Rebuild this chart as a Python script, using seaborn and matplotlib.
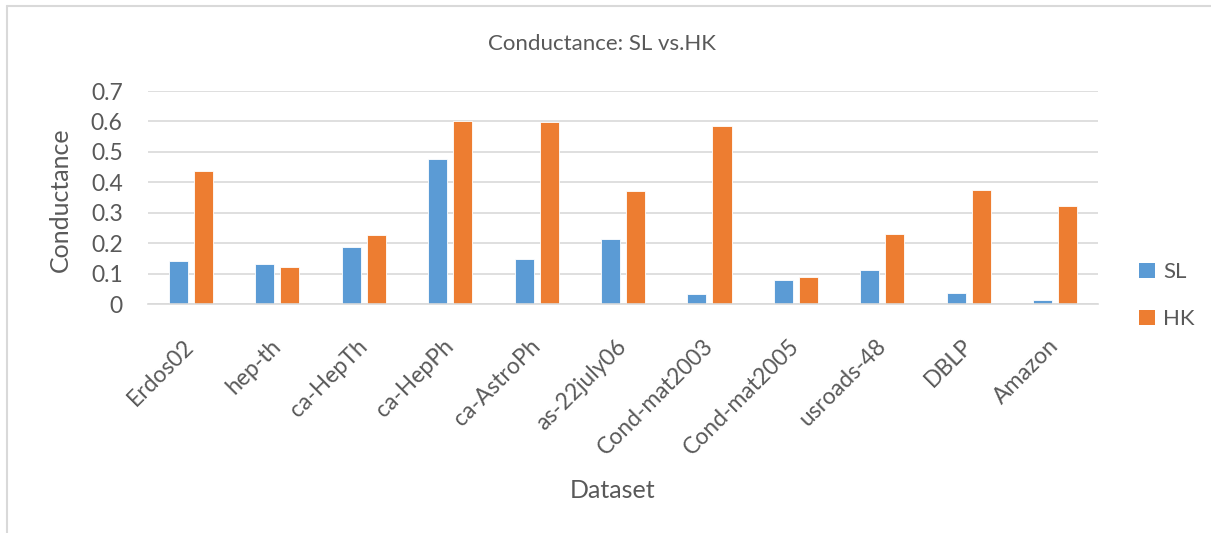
import pandas as pd
import seaborn as sns
import matplotlib.pyplot as plt
from matplotlib.lines import Line2D
from matplotlib.patches import Patch

datasets = ["Erdos02", "hep-th", "ca-HepTh", "ca-HepPh", "ca-AstroPh", "as-22july06",
            "Cond-mat2003", "Cond-mat2005", "usroads-48", "DBLP", "Amazon"]
sl = [0.143, 0.132, 0.187, 0.477, 0.147, 0.214, 0.033, 0.079, 0.111, 0.037, 0.013]
hk = [0.437, 0.121, 0.227, 0.601, 0.599, 0.372, 0.586, 0.089, 0.229, 0.376, 0.321]
series = ["SL", "HK"]
colors = ["#5B9BD5", "#ED7D31"]

df = pd.DataFrame({
    "Dataset": datasets * 2,
    "Conductance": sl + hk,
    "Method": ["SL"] * len(datasets) + ["HK"] * len(datasets),
})

sns.set_style("white")
plt.rcParams["font.family"] = ["Lato", "DejaVu Sans"]
text_col = "#595959"

fig = plt.figure(figsize=(12.11, 5.33), dpi=100)
ax = fig.add_axes([0.122, 0.4296, 0.785, 0.3996])

sns.barplot(data=df, x="Dataset", y="Conductance", hue="Method", hue_order=series,
            palette=colors, width=0.58, gap=0.24, ax=ax, legend=False,
            edgecolor="white", linewidth=0.6, saturation=1)

ax.set_ylim(0, 0.7)
ax.set_xlim(-0.5, len(datasets) - 0.5)
ax.set_yticks([0, 0.1, 0.2, 0.3, 0.4, 0.5, 0.6, 0.7])
ax.set_yticklabels(["0", "0.1", "0.2", "0.3", "0.4", "0.5", "0.6", "0.7"])
ax.yaxis.grid(True, color="#D9D9D9", linewidth=1.2)
ax.set_axisbelow(True)
for s in ["top", "right", "left"]:
    ax.spines[s].set_visible(False)
ax.spines["bottom"].set_color("#D9D9D9")
ax.spines["bottom"].set_linewidth(1.2)
ax.tick_params(axis="both", length=0, labelsize=16.5, colors=text_col, pad=18)
plt.setp(ax.get_xticklabels(), rotation=45, ha="right", va="center",
         rotation_mode="anchor")
ax.tick_params(axis="x", pad=28)
ax.set_xlabel("")
ax.set_ylabel("")

fig.text(0.497, 0.918, "Conductance: SL vs.HK", ha="center", va="center",
         fontsize=16, color=text_col)
fig.text(0.05, 0.625, "Conductance", rotation=90, ha="center", va="center",
         fontsize=18, color=text_col)
fig.text(0.506, 0.08, "Dataset", ha="center", va="center",
         fontsize=18, color=text_col)

handles = [Patch(facecolor=c, edgecolor="none") for c in colors]
fig.legend(handles, series, loc="center left", bbox_to_anchor=(0.924, 0.445),
           frameon=False, fontsize=16, labelcolor=text_col, handlelength=0.7,
           handleheight=0.7, handletextpad=0.4, labelspacing=1.2)

# outer chart frame
fig.add_artist(Line2D([7 / 1211, 1], [1 - 6 / 533] * 2, color="#D9D9D9", lw=1.5))
fig.add_artist(Line2D([7 / 1211] * 2, [0, 1 - 6 / 533], color="#D9D9D9", lw=1.5))

fig.savefig("out.png", dpi=100)
